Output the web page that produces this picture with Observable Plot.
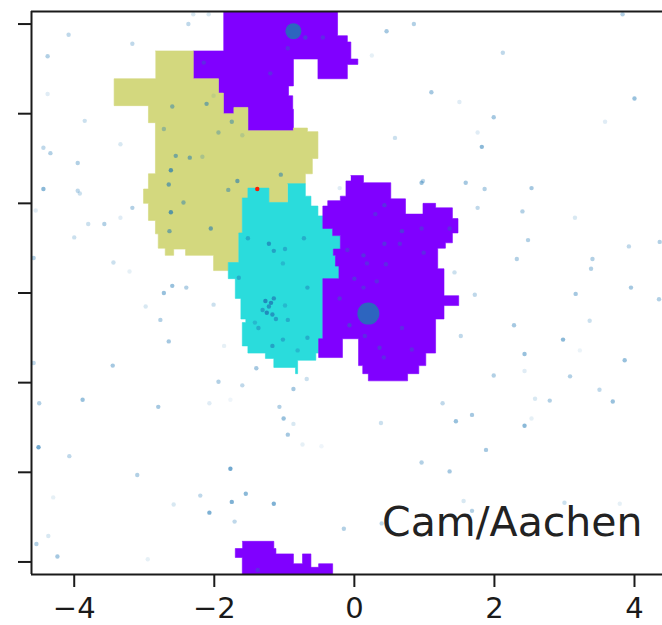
<!DOCTYPE html>
<html><head><meta charset="utf-8">
<script src="https://cdn.jsdelivr.net/npm/d3@7"></script>
<script src="https://cdn.jsdelivr.net/npm/@observablehq/plot@0.6"></script>
<style>
html,body{margin:0;padding:0;background:#fff;}
#chart svg{display:block;}
#chart [aria-label$="axis tick"]{stroke-width:2px;}
</style>
</head><body><div id="chart"></div>
<script>
// ---- axis values ----
const xTicks = [-4, -2, 0, 2, 4];
const yTicks = [-3, -2, -1, 0, 1, 2, 3];
const xDomain = [-4.61, 4.40];
const yDomain = [-3.14, 3.14];
const annotation = "Cam/Aachen";

// ---- region outlines (data coordinates) ----
const topPurple = [[-1.87,3.14],[-0.24,3.14],[-0.24,2.87],[-0.10,2.87],[-0.10,2.80],[-0.05,2.80],[-0.05,2.61],[0.05,2.61],[0.05,2.55],[-0.10,2.55],[-0.10,2.39],[-0.52,2.39],[-0.52,2.61],[-0.87,2.61],[-0.87,2.31],[-0.94,2.31],[-0.94,2.20],[-0.88,2.20],[-0.88,2.05],[-0.87,2.05],[-0.87,1.81],[-1.52,1.81],[-1.52,2.07],[-1.72,2.07],[-1.72,2.00],[-1.87,2.00],[-1.87,2.23],[-1.94,2.23],[-1.94,2.39],[-2.30,2.39],[-2.30,2.70],[-1.87,2.70]];
const yellowRegion = [[-2.84,2.70],[-2.30,2.70],[-2.30,2.39],[-1.94,2.39],[-1.94,2.23],[-1.87,2.23],[-1.87,2.00],[-1.72,2.00],[-1.72,2.07],[-1.52,2.07],[-1.52,1.81],[-0.87,1.81],[-0.87,1.84],[-0.67,1.84],[-0.67,1.80],[-0.52,1.80],[-0.52,1.50],[-0.60,1.50],[-0.60,1.33],[-0.70,1.33],[-0.70,1.22],[-0.95,1.22],[-0.95,1.01],[-1.22,1.01],[-1.22,1.17],[-1.52,1.17],[-1.52,1.06],[-1.60,1.06],[-1.60,0.67],[-1.65,0.67],[-1.65,0.34],[-1.80,0.34],[-1.80,0.25],[-2.01,0.25],[-2.01,0.42],[-2.41,0.42],[-2.41,0.49],[-2.58,0.49],[-2.58,0.42],[-2.70,0.42],[-2.70,0.50],[-2.80,0.50],[-2.80,0.66],[-2.84,0.66],[-2.84,0.81],[-2.94,0.81],[-2.94,1.00],[-3.01,1.00],[-3.01,1.16],[-2.94,1.16],[-2.94,1.33],[-2.84,1.33],[-2.84,1.90],[-2.94,1.90],[-2.94,2.09],[-3.43,2.09],[-3.43,2.39],[-2.84,2.39]];
const cyanRegion = [[-0.95,1.22],[-0.70,1.22],[-0.70,1.08],[-0.62,1.08],[-0.62,0.97],[-0.52,0.97],[-0.52,0.86],[-0.45,0.86],[-0.45,0.72],[-0.31,0.72],[-0.31,0.64],[-0.20,0.64],[-0.20,0.49],[-0.30,0.49],[-0.30,0.42],[-0.27,0.42],[-0.27,0.30],[-0.22,0.30],[-0.22,0.16],[-0.45,0.16],[-0.45,-0.51],[-0.51,-0.51],[-0.51,-0.67],[-0.55,-0.67],[-0.55,-0.75],[-0.81,-0.75],[-0.81,-0.90],[-0.84,-0.90],[-0.84,-0.83],[-1.15,-0.83],[-1.15,-0.73],[-1.27,-0.73],[-1.27,-0.67],[-1.52,-0.67],[-1.52,-0.59],[-1.60,-0.59],[-1.60,-0.33],[-1.55,-0.33],[-1.55,-0.29],[-1.62,-0.29],[-1.62,-0.06],[-1.70,-0.06],[-1.70,0.16],[-1.80,0.16],[-1.80,0.34],[-1.65,0.34],[-1.65,0.67],[-1.60,0.67],[-1.60,1.06],[-1.52,1.06],[-1.52,1.17],[-1.22,1.17],[-1.22,1.01],[-0.95,1.01]];
const midPurple = [[-0.05,1.31],[0.13,1.31],[0.13,1.23],[0.52,1.23],[0.52,1.05],[0.73,1.05],[0.73,0.88],[0.98,0.88],[0.98,1.00],[1.16,1.00],[1.16,0.95],[1.40,0.95],[1.40,0.83],[1.48,0.83],[1.48,0.67],[1.40,0.67],[1.40,0.56],[1.30,0.56],[1.30,0.50],[1.19,0.50],[1.19,0.27],[1.28,0.27],[1.28,-0.03],[1.49,-0.03],[1.49,-0.14],[1.28,-0.14],[1.28,-0.29],[1.16,-0.29],[1.16,-0.67],[1.02,-0.67],[1.02,-0.81],[0.92,-0.81],[0.92,-0.90],[0.76,-0.90],[0.76,-0.98],[0.20,-0.98],[0.20,-0.90],[0.12,-0.90],[0.12,-0.81],[0.06,-0.81],[0.06,-0.51],[-0.17,-0.51],[-0.17,-0.72],[-0.51,-0.72],[-0.51,-0.51],[-0.45,-0.51],[-0.45,0.16],[-0.22,0.16],[-0.22,0.30],[-0.27,0.30],[-0.27,0.42],[-0.30,0.42],[-0.30,0.49],[-0.20,0.49],[-0.20,0.64],[-0.31,0.64],[-0.31,0.72],[-0.45,0.72],[-0.45,0.97],[-0.38,0.97],[-0.38,1.03],[-0.20,1.03],[-0.20,1.08],[-0.12,1.08],[-0.12,1.25],[-0.05,1.25]];
const bottomPurple = [[-1.60,-2.77],[-1.15,-2.77],[-1.15,-2.85],[-1.12,-2.85],[-1.12,-2.91],[-0.87,-2.91],[-0.87,-3.02],[-0.74,-3.02],[-0.74,-2.91],[-0.62,-2.91],[-0.62,-3.06],[-0.51,-3.06],[-0.51,-3.02],[-0.31,-3.02],[-0.31,-3.14],[-1.60,-3.14],[-1.60,-2.95],[-1.70,-2.95],[-1.70,-2.85],[-1.60,-2.85]];
const regionColors = {purple: "#8000ff", yellow: "#d3d87e", cyan: "#2adcdc"};

// ---- scattered samples ----
const pointX = [-2.08,-2.30,-2.37,-4.08,-3.17,-4.38,-4.38,-3.85,-3.34,-4.44,-4.34,-3.95,-4.44,-3.95,-3.92,-4.55,-3.17,-3.34,-3.80,-3.57,-4.00,-4.58,-3.44,-3.21,-2.60,-2.40,-2.72,-2.98,-2.01,
 -2.60,-2.11,-2.01,-1.75,-2.72,-1.94,-1.60,-2.55,-2.35,-2.17,-2.62,-2.65,-1.67,-1.80,-1.05,-2.44,-2.62,-2.64,-2.05,
 -0.70,-0.95,-1.20,-2.15,-0.45,
 -1.52,-1.22,-1.15,-0.99,-0.72,-1.02,-1.65,-0.67,-1.27,-1.19,-1.15,-1.22,-1.25,-1.17,-1.12,-1.31,-0.95,-1.37,-0.67,-1.02,-1.17,-0.81,-0.99,-1.42,
 3.83,0.85,0.46,0.25,2.12,1.10,1.50,4.00,1.99,0.58,1.76,1.82,3.58,0.96,1.59,1.86,2.53,-0.21,1.76,2.40,3.15,2.48,4.36,3.92,2.32,3.40,3.38,1.43,1.72,3.16,3.95,4.35,
 0.30,0.43,0.68,0.43,0.65,-0.10,0.13,0.18,0.45,0.00,0.32,0.13,-0.21,0.96,1.36,0.99,-0.07,0.15,0.36,0.42,0.82,0.68,
 -2.77,-2.65,-1.86,-4.58,-3.45,-1.40,-1.94,-1.60,-0.87,-0.68,-4.50,-3.88,-2.80,-2.07,-1.77,-1.07,-1.01,-0.87,-0.95,-0.74,-0.47,-4.51,-4.07,-3.10,-1.77,-4.30,-2.20,-2.58,-1.55,-1.75,-1.15,-2.07,-1.71,-4.37,-4.54,-4.24,-2.95,-1.38,
 2.28,3.36,1.52,2.98,2.43,3.22,3.86,2.43,1.99,3.08,3.50,3.69,2.58,2.79,1.26,0.38,1.45,1.68,2.43,2.53,1.88,0.96,1.36,1.56,1.68,3.00,3.79,0.39,-0.15,0.98];
const pointY = [3.11,3.11,3.00,2.88,2.78,2.64,2.22,1.92,1.66,1.62,1.56,1.45,1.16,1.14,1.11,0.92,0.95,0.84,0.77,0.77,0.62,0.39,0.34,0.24,0.08,0.06,0.00,-0.15,-0.13,
 2.08,2.11,2.20,1.91,1.83,1.79,1.76,1.53,1.51,1.52,1.37,1.21,1.25,1.15,1.32,1.01,0.90,0.69,0.72,
 2.85,2.73,2.45,2.57,2.85,
 0.61,0.55,0.47,0.49,0.61,0.33,0.17,0.06,-0.09,-0.11,-0.06,-0.15,-0.22,-0.24,-0.29,-0.19,-0.30,-0.39,-0.50,-0.52,-0.59,-0.64,-0.14,-0.33,
 3.11,3.00,2.92,2.65,2.68,2.24,2.13,2.17,1.96,1.73,1.79,1.63,1.91,1.23,1.23,1.16,1.17,1.17,0.95,0.91,0.84,0.59,0.57,0.52,0.38,0.38,0.27,0.23,-0.02,-0.01,0.06,-0.07,
 0.88,0.98,0.69,0.55,0.55,0.48,0.42,0.33,0.32,0.16,0.13,0.06,-0.06,0.72,0.72,0.45,-0.36,-0.48,-0.61,-0.72,-0.63,-0.39,
 -0.30,-0.54,-0.59,-0.78,-0.81,-0.84,-0.99,-1.03,-1.07,-0.96,-1.23,-1.19,-1.27,-1.23,-1.19,-1.27,-1.40,-1.46,-1.58,-1.69,-1.71,-1.72,-1.82,-2.03,-1.96,-2.28,-2.26,-2.36,-2.24,-2.33,-2.35,-2.45,-2.55,-2.71,-2.80,-2.94,-2.97,-3.09,
 -0.36,-0.31,-0.48,-0.52,-0.68,-0.64,-0.75,-0.87,-0.92,-0.93,-1.08,-1.21,-1.18,-1.20,-1.23,-1.45,-1.43,-1.36,-1.48,-1.40,-1.75,-1.89,-1.99,-2.32,-2.43,-2.34,-2.35,-2.57,-2.63,1.25];
const pointAlpha = [0.15,0.15,0.25,0.25,0.25,0.3,0.12,0.2,0.15,0.25,0.3,0.3,0.45,0.25,0.2,0.12,0.3,0.12,0.2,0.3,0.2,0.3,0.2,0.1,0.4,0.3,0.4,0.15,0.2,
 0.4,0.45,0.1,0.4,0.3,0.3,0.15,0.45,0.45,0.2,0.6,0.5,0.5,0.4,0.45,0.4,0.6,0.45,0.5,
 0.4,0.3,0.3,0.3,0.3,
 0.4,0.6,0.5,0.4,0.4,0.3,0.4,0.4,0.7,0.7,0.6,0.6,0.7,0.6,0.5,0.5,0.4,0.4,0.4,0.4,0.5,0.3,0.3,0.3,
 0.3,0.3,0.35,0.1,0.25,0.35,0.12,0.4,0.35,0.2,0.12,0.45,0.12,0.4,0.35,0.3,0.35,0.12,0.25,0.3,0.15,0.3,0.3,0.25,0.3,0.3,0.3,0.2,0.25,0.35,0.35,0.3,
 0.3,0.35,0.4,0.35,0.3,0.3,0.35,0.3,0.3,0.35,0.3,0.3,0.35,0.3,0.3,0.3,0.4,0.3,0.35,0.3,0.3,0.3,
 0.3,0.35,0.1,0.25,0.35,0.35,0.3,0.25,0.35,0.2,0.3,0.4,0.35,0.12,0.06,0.3,0.4,0.15,0.35,0.1,0.06,0.55,0.25,0.3,0.55,0.1,0.25,0.15,0.45,0.5,0.5,0.5,0.25,0.15,0.3,0.35,0.1,0.3,
 0.35,0.2,0.25,0.45,0.4,0.08,0.4,0.12,0.3,0.3,0.25,0.4,0.15,0.3,0.25,0.2,0.4,0.35,0.45,0.1,0.35,0.3,0.35,0.15,0.3,0.2,0.1,0.25,0.3,0.25];
const centerX = [-0.87, 0.20];
const centerY = [2.92, -0.23];
const markerX = [-1.386];
const markerY = [1.16];

// ---- build tables ----
const regions = [
  {poly: topPurple, color: regionColors.purple},
  {poly: yellowRegion, color: regionColors.yellow},
  {poly: cyanRegion, color: regionColors.cyan},
  {poly: midPurple, color: regionColors.purple},
  {poly: bottomPurple, color: regionColors.purple}
];
const points = pointX.map((x, i) => ({x, y: pointY[i], a: Math.min(1, pointAlpha[i] * 1.15)}));
const centers = centerX.map((x, i) => ({x, y: centerY[i], big: i === 1}));
const markers = markerX.map((x, i) => ({x, y: markerY[i]}));
const fmt = d => d < 0 ? "\u2212" + Math.abs(d) : String(d);

const chart = Plot.plot({
  width: 662, height: 625,
  marginLeft: 31, marginRight: 0, marginTop: 11, marginBottom: 51,
  style: {fontFamily: "DejaVu Sans", fontSize: "29px", color: "#1a1a1a", background: "#fff", overflow: "hidden"},
  x: {domain: xDomain, ticks: xTicks, tickSize: 13, tickPadding: 10, tickFormat: fmt, label: null},
  y: {domain: yDomain, ticks: yTicks, tickSize: 13, tickFormat: () => "", label: null},
  marks: [
    ...regions.map(r => Plot.line(r.poly, {x: d => d[0], y: d => d[1], fill: r.color, stroke: r.color, strokeWidth: 0.6, curve: "linear", clip: true})),
    Plot.dot(markers, {x: "x", y: "y", r: 2.2, fill: "#ff1a00", stroke: null}),
    Plot.dot(points, {x: "x", y: "y", r: 2.2, fill: "#1f77b4", fillOpacity: "a", stroke: null, clip: true}),
    Plot.dot(centers.filter(d => !d.big), {x: "x", y: "y", r: 8, fill: "#1f77b4", fillOpacity: 0.85, stroke: null}),
    Plot.dot(centers.filter(d => d.big), {x: "x", y: "y", r: 11, fill: "#1f77b4", fillOpacity: 0.85, stroke: null}),
    Plot.text([annotation], {frameAnchor: "bottom-right", textAnchor: "end", lineAnchor: "bottom", dx: -20, dy: -39, fontSize: 41, fill: "#222"}),
    Plot.ruleX([xDomain[0]], {stroke: "#1a1a1a", strokeWidth: 2}),
    Plot.ruleY([yDomain[0], yDomain[1]], {stroke: "#1a1a1a", strokeWidth: 2})
  ]
});
document.getElementById("chart").appendChild(chart);
</script>
</body></html>
